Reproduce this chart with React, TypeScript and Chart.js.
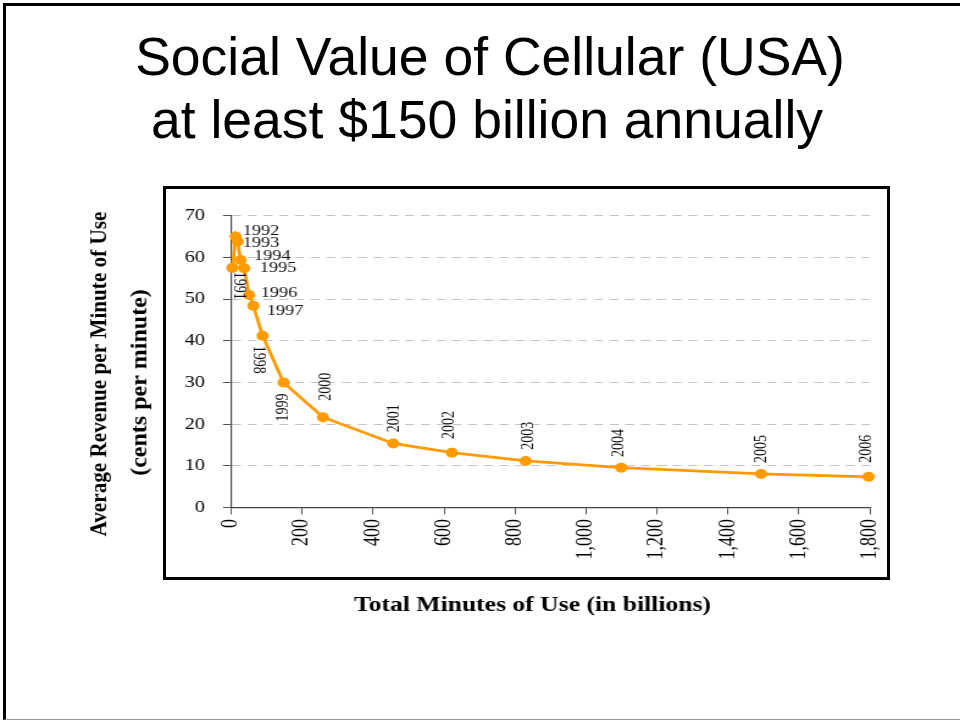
import React, { useEffect, useRef } from "react";
import { Chart, registerables } from "chart.js";

Chart.register(...registerables);

// ---- data ----
const YEARS = [
  "1991", "1992", "1993", "1994", "1995", "1996", "1997", "1998",
  "1999", "2000", "2001", "2002", "2003", "2004", "2005", "2006",
];
// total minutes of use, billions
const MINUTES_BILLIONS = [4, 13, 19, 27, 37, 51, 63, 89, 148, 259, 457, 622, 830, 1099, 1493, 1796];
// average revenue per minute, cents
const CENTS_PER_MINUTE = [57.5, 65.0, 63.8, 59.4, 57.4, 51.0, 48.4, 41.2, 30.0, 21.7, 15.4, 13.2, 11.2, 9.6, 8.1, 7.4];

const X_MIN = 0;
const X_MAX = 1800;
const X_STEP = 200;
const Y_MIN = 0;
const Y_MAX = 70;
const Y_STEP = 10;

const TITLE_LINES = ["Social Value of Cellular (USA)", "at least $150 billion annually"];
const X_TITLE = "Total Minutes of Use (in billions)";
const Y_TITLE_LINES = ["Average Revenue per Minute of Use", "(cents per minute)"];

// ---- styling ----
const ORANGE = "#FF9A00";
const SERIF = '"Liberation Serif", "Times New Roman", serif';
const SANS = '"Liberation Sans", Arial, sans-serif';
const SX = 1.22; // horizontal stretch of the chart picture
const CANVAS_W = 670;
const CANVAS_H = 440;

// where each year label sits relative to its point (screen px), and its rotation
const LABEL_PLACEMENT: Record<string, { dx: number; dy: number; rot: number }> = {
  "1991": { dx: 6, dy: 18, rot: 90 },
  "1992": { dx: 7, dy: -5.7, rot: 0 },
  "1993": { dx: 5, dy: 1.3, rot: 0 },
  "1994": { dx: 13.3, dy: -3.7, rot: 0 },
  "1995": { dx: 15.7, dy: 0, rot: 0 },
  "1996": { dx: 11.7, dy: -2, rot: 0 },
  "1997": { dx: 13.4, dy: 5, rot: 0 },
  "1998": { dx: -4, dy: 24, rot: 90 },
  "1999": { dx: 0, dy: 25, rot: -90 },
  "2000": { dx: 3, dy: -30.5, rot: -90 },
  "2001": { dx: 1, dy: -25.3, rot: -90 },
  "2002": { dx: -2.4, dy: -27.7, rot: -90 },
  "2003": { dx: 2.6, dy: -25.3, rot: -90 },
  "2004": { dx: -2, dy: -24.7, rot: -90 },
  "2005": { dx: 0, dy: -25, rot: -90 },
  "2006": { dx: -1.6, dy: -28.2, rot: -90 },
};

const yearLabelPlugin = {
  id: "yearLabels",
  afterDatasetsDraw(chart: any) {
    const meta = chart.getDatasetMeta(0);
    const ctx: CanvasRenderingContext2D = chart.ctx;
    ctx.save();
    ctx.fillStyle = "#111";
    YEARS.forEach((year, i) => {
      const el = meta.data[i];
      const p = LABEL_PLACEMENT[year];
      if (!el || !p) return;
      const x = el.x + p.dx / SX;
      const y = el.y + p.dy;
      ctx.save();
      ctx.textBaseline = "middle";
      if (p.rot === 0) {
        ctx.font = `15px ${SERIF}`;
        ctx.textAlign = "left";
        ctx.fillText(year, x, y);
      } else {
        ctx.translate(x, y);
        ctx.rotate((p.rot * Math.PI) / 180);
        ctx.font = `14px ${SERIF}`;
        ctx.textAlign = "center";
        ctx.fillText(year, 0, 0);
      }
      ctx.restore();
    });
    ctx.restore();
  },
};

const axisTitlePlugin = {
  id: "axisTitles",
  afterDraw(chart: any) {
    const ctx: CanvasRenderingContext2D = chart.ctx;
    ctx.save();
    ctx.fillStyle = "#000";
    // x title, below the framed box
    ctx.font = `bold 21px ${SERIF}`;
    ctx.textAlign = "center";
    ctx.textBaseline = "alphabetic";
    ctx.fillText(X_TITLE, 372.5, 421.7);
    // y title, two rotated lines left of the box
    const lines = [
      { text: Y_TITLE_LINES[0], x: 18.0, y: 185, maxLen: 325 },
      { text: Y_TITLE_LINES[1], x: 50.8, y: 193.5, maxLen: 400 },
    ];
    lines.forEach((l) => {
      ctx.save();
      ctx.translate(l.x, l.y);
      ctx.scale(1 / SX, 1);
      ctx.rotate(-Math.PI / 2);
      ctx.font = `bold 24px ${SERIF}`;
      ctx.textAlign = "center";
      ctx.textBaseline = "middle";
      ctx.fillText(l.text, 0, 0, l.maxLen);
      ctx.restore();
    });
    ctx.restore();
  },
};

function CellularChart() {
  const canvasRef = useRef<HTMLCanvasElement | null>(null);

  useEffect(() => {
    if (!canvasRef.current) return;
    Chart.defaults.font.family = SERIF;
    const points = YEARS.map((_, i) => ({ x: MINUTES_BILLIONS[i], y: CENTS_PER_MINUTE[i] }));
    const chart = new Chart(canvasRef.current, {
      type: "line",
      data: {
        labels: YEARS,
        datasets: [
          {
            data: points,
            borderColor: ORANGE,
            backgroundColor: ORANGE,
            pointBackgroundColor: ORANGE,
            pointBorderColor: ORANGE,
            pointBorderWidth: 0,
            pointRadius: 5,
            borderWidth: 2.75,
            tension: 0,
            clip: false as any,
          },
        ],
      },
      options: {
        animation: false,
        responsive: false,
        maintainAspectRatio: false,
        layout: { padding: { top: 26.7, right: 20.8, bottom: 0, left: 0 } },
        plugins: {
          legend: { display: false },
          tooltip: { enabled: false },
          title: { display: false },
        },
        scales: {
          x: {
            type: "linear",
            min: X_MIN,
            max: X_MAX,
            ticks: {
              stepSize: X_STEP,
              minRotation: 90,
              maxRotation: 90,
              padding: 4.5,
              color: "#000",
              font: { family: SERIF, size: 18 },
              callback: (v: any) => Number(v).toLocaleString("en-US"),
            },
            grid: {
              drawOnChartArea: false,
              drawTicks: true,
              tickLength: 6.7,
              tickColor: "#555",
              tickWidth: 1,
            },
            border: { color: "#444", width: 1.2 },
            afterFit: (axis: any) => {
              axis.height = CANVAS_H - 318.7;
              axis.paddingLeft = 0;
              axis.paddingRight = 0;
            },
          },
          y: {
            min: Y_MIN,
            max: Y_MAX,
            ticks: {
              stepSize: Y_STEP,
              padding: 14.7,
              color: "#000",
              font: { family: SERIF, size: 16.5 },
            },
            grid: {
              color: (c: any) => (c.tick && c.tick.value === 0 ? "rgba(0,0,0,0)" : "#c4c4c4"),
              lineWidth: 1,
              tickLength: 6.6,
              tickColor: "#555",
              tickWidth: 1,
            },
            border: { color: "#444", width: 1.2, dash: [7.4, 5.5] },
            afterFit: (axis: any) => {
              axis.width = 125.4;
              axis.paddingTop = 0;
              axis.paddingBottom = 0;
            },
          },
        },
      } as any,
      plugins: [yearLabelPlugin, axisTitlePlugin],
    });
    return () => chart.destroy();
  }, []);

  return (
    <canvas
      ref={canvasRef}
      width={CANVAS_W}
      height={CANVAS_H}
      style={{
        position: "absolute",
        left: 78,
        top: 189,
        width: CANVAS_W,
        height: CANVAS_H,
        transform: `scaleX(${SX})`,
        transformOrigin: "0 0",
      }}
    />
  );
}

export default function App() {
  return (
    <div
      style={{
        position: "absolute",
        left: 0,
        top: 0,
        width: 960,
        height: 721,
        overflow: "hidden",
        background: "#fff",
      }}
    >
      {/* slide frame */}
      <div
        style={{
          position: "absolute",
          left: 3,
          top: 3,
          width: 980,
          height: 717,
          boxSizing: "border-box",
          borderLeft: "3px solid #000",
          borderTop: "3px solid #000",
          borderBottom: "1px solid #999",
        }}
      />
      {/* slide title */}
      {TITLE_LINES.map((line, i) => (
        <div
          key={i}
          style={{
            position: "absolute",
            left: i === 0 ? 490 : 487,
            top: i === 0 ? 29.7 : 92.7,
            transform: "translateX(-50%)",
            whiteSpace: "nowrap",
            fontFamily: SANS,
            fontSize: 53.5,
            lineHeight: 1,
            color: "#000",
          }}
        >
          {line}
        </div>
      ))}
      {/* framed chart box */}
      <div
        style={{
          position: "absolute",
          left: 163,
          top: 186,
          width: 727,
          height: 394,
          boxSizing: "border-box",
          border: "3px solid #000",
        }}
      />
      <CellularChart />
    </div>
  );
}
